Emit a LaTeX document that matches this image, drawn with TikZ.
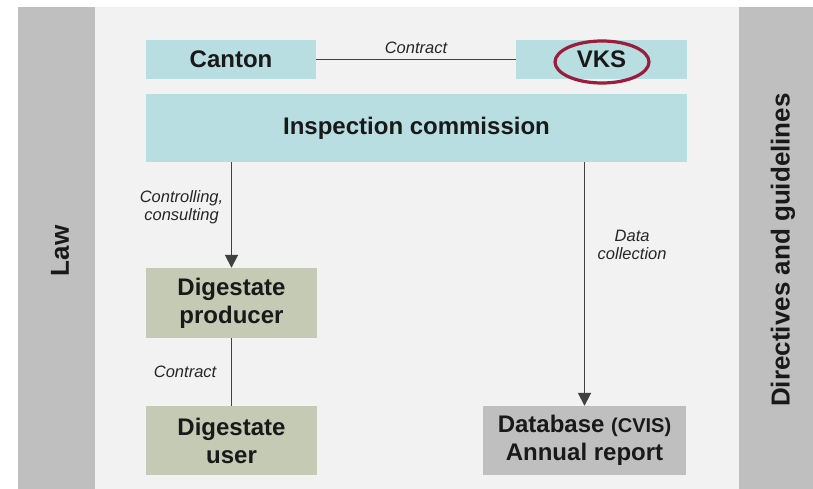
\documentclass[tikz,border=0pt]{standalone}
\usepackage{fontspec}
\setmainfont{Liberation Sans}
\usetikzlibrary{arrows.meta}
\definecolor{boxblue}{RGB}{184,222,226}
\definecolor{boxolive}{RGB}{196,202,180}
\definecolor{bargray}{RGB}{191,191,191}
\definecolor{panelgray}{RGB}{242,242,242}
\definecolor{ringred}{RGB}{155,28,60}
\definecolor{linegray}{RGB}{64,64,64}
\begin{document}
\begin{tikzpicture}[x=1pt, y=-1pt,
  box/.style={inner sep=0pt, align=center, text=black!90, font=\fontsize{24}{28}\selectfont\bfseries},
  bluebox/.style={box, fill=boxblue},
  olivebox/.style={box, fill=boxolive},
  graybox/.style={box, fill=bargray},
  lbl/.style={font=\fontsize{16.5}{18}\selectfont\itshape, align=center, text=black!85},
  conn/.style={draw=linegray, line width=1.8pt},
  arr/.style={conn, -{Triangle[length=13pt, width=13pt]}},
  ring/.style={draw=ringred, line width=3.2pt},
  side/.style={font=\fontsize{26}{30}\selectfont\bfseries, text=black!90, rotate=90}]
\useasboundingbox (0,0) rectangle (813,489);
\fill[white] (0,0) rectangle (813,489);
\fill[bargray] (18,7) rectangle (95,489);
\fill[panelgray] (95,7) rectangle (739,489);
\fill[bargray] (739,7) rectangle (813,489);
\node[side] (law) at (60,251) {Law};
\node[side] (rules) at (783,250) {Directives and guidelines};

\node[bluebox, minimum width=170, minimum height=39] (canton) at (231,59.5) {Canton};
\node[bluebox, minimum width=171, minimum height=39] (vks) at (601.5,59.5) {VKS};
\draw[ring] (602,62) ellipse [x radius=47, y radius=21];
\node[bluebox, minimum width=541, minimum height=68] (insp) at (416.5,128) {Inspection commission};
\node[olivebox, minimum width=171, minimum height=70] (producer) at (231.5,303) {Digestate\\producer};
\node[olivebox, minimum width=171, minimum height=69] (user) at (231.5,440.5) {Digestate\\user};
\node[graybox, minimum width=203, minimum height=69] (db) at (584.5,440.5) {Database {\fontsize{20}{28}\selectfont(CVIS)}\\Annual report};

\draw[conn] (canton) -- node[lbl, above, yshift=2] {Contract} (vks);
\draw[arr] (insp.south -| producer.north) -- node[lbl, left, pos=0.43, xshift=-4] {Controlling,\\consulting} (producer.north);
\draw[conn] (producer) -- node[lbl, left, xshift=-11] {Contract} (user);
\draw[arr] (insp.south -| db.north) -- node[lbl, right, pos=0.34, xshift=9] {Data\\collection} (db.north);
\end{tikzpicture}
\end{document}
